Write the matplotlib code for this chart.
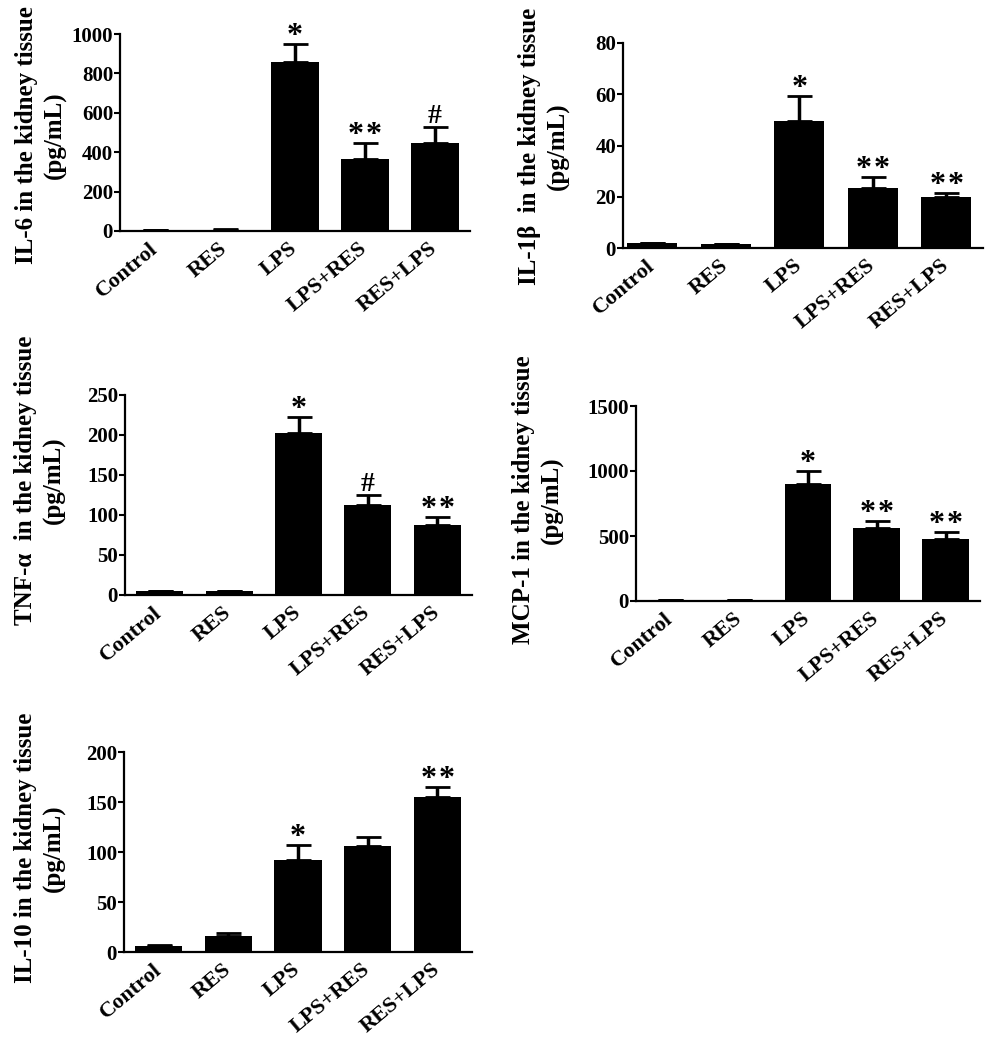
import numpy as np
import matplotlib
matplotlib.use('Agg')
import matplotlib.pyplot as plt

plt.rcParams['font.family'] = ['Liberation Serif', 'DejaVu Serif']
plt.rcParams['font.weight'] = 'bold'

# groups on the x axis
groups = ['Control', 'RES', 'LPS', 'LPS+RES', 'RES+LPS']

# values (mean, upper error)
il6_mean = [5, 7, 858, 365, 447]
il6_err = [2, 2, 91, 82, 81]
il6_marks = ['', '', '*', '**', '#']

il1b_mean = [1.8, 1.5, 49.6, 23.4, 19.9]
il1b_err = [0.3, 0.2, 9.7, 4.3, 1.6]
il1b_marks = ['', '', '*', '**', '**']

tnf_mean = [5, 5, 202, 113, 87]
tnf_err = [0.5, 0.5, 20, 12, 10]
tnf_marks = ['', '', '*', '#', '**']

mcp_mean = [4, 6, 900, 561, 477]
mcp_err = [2, 2, 100, 54, 54]
mcp_marks = ['', '', '*', '**', '**']

il10_mean = [6, 16, 92, 106, 155]
il10_err = [1, 3, 15, 9, 10]
il10_marks = ['', '', '*', '', '**']

W, H = 987, 1050
fig = plt.figure(figsize=(W / 100, H / 100), dpi=100)


def px_axes(left, top, right, bottom):
    return fig.add_axes([left / W, 1 - bottom / H, (right - left) / W, (bottom - top) / H])


def panel(ax, mean, err, marks, yticks, label, label_xy, xlim=(-0.5, 4.5)):
    x = np.arange(len(groups))
    ax.bar(x, mean, width=0.68, color='black', zorder=2)
    ax.errorbar(x, mean, yerr=[np.zeros(len(err)), err], fmt='none', ecolor='black',
                elinewidth=2.5, capsize=9, capthick=2, zorder=1)
    for i, m in enumerate(marks):
        if m == '':
            continue
        top = mean[i] + err[i]
        if m == '#':
            ax.annotate(m, (x[i], top), xytext=(0, 3), textcoords='offset points',
                        ha='center', va='baseline', fontsize=20, fontweight='bold')
        else:
            # draw each star separately so the gap can be set
            n = len(m)
            for k in range(n):
                ax.annotate('*', (x[i], top), xytext=((k - (n - 1) / 2) * 13, 0),
                            textcoords='offset points', ha='center', va='baseline',
                            fontsize=23, fontweight='bold')
    ax.set_xlim(*xlim)
    ax.set_ylim(yticks[0], yticks[-1])
    ax.set_yticks(yticks)
    ax.set_xticks(x)
    ax.set_xticklabels(groups, rotation=40, ha='right', va='center', rotation_mode='anchor')
    for s in ['top', 'right']:
        ax.spines[s].set_visible(False)
    for s in ['left', 'bottom']:
        ax.spines[s].set_linewidth(1.6)
    ax.tick_params(axis='x', length=0, pad=11, labelsize=16)
    ax.tick_params(axis='y', direction='out', length=4, width=1.5, pad=1, labelsize=15)
    fig.text(label_xy[0] / W, 1 - label_xy[1] / H, label, rotation=90, ha='center', va='center',
             multialignment='center', fontsize=18, fontweight='bold', linespacing=1.3)


ax1 = px_axes(120, 34, 470, 231)
panel(ax1, il6_mean, il6_err, il6_marks, [0, 200, 400, 600, 800, 1000],
      'IL-6 in the kidney tissue\n(pg/mL)', (41, 135))

ax2 = px_axes(623, 43, 983, 248)
panel(ax2, il1b_mean, il1b_err, il1b_marks, [0, 20, 40, 60, 80],
      'IL-1\u03b2  in the kidney tissue\n(pg/mL)', (544, 146), xlim=(-0.4, 4.5))

ax3 = px_axes(125, 395, 472, 595)
panel(ax3, tnf_mean, tnf_err, tnf_marks, [0, 50, 100, 150, 200, 250],
      'TNF-\u03b1  in the kidney tissue\n(pg/mL)', (40, 480))

ax4 = px_axes(636, 406, 980, 601)
panel(ax4, mcp_mean, mcp_err, mcp_marks, [0, 500, 1000, 1500],
      'MCP-1 in the kidney tissue\n(pg/mL)', (538, 500))

ax5 = px_axes(124, 752, 472, 952)
panel(ax5, il10_mean, il10_err, il10_marks, [0, 50, 100, 150, 200],
      'IL-10 in the kidney tissue\n(pg/mL)', (40, 848))

fig.savefig('out.png', dpi=100)
